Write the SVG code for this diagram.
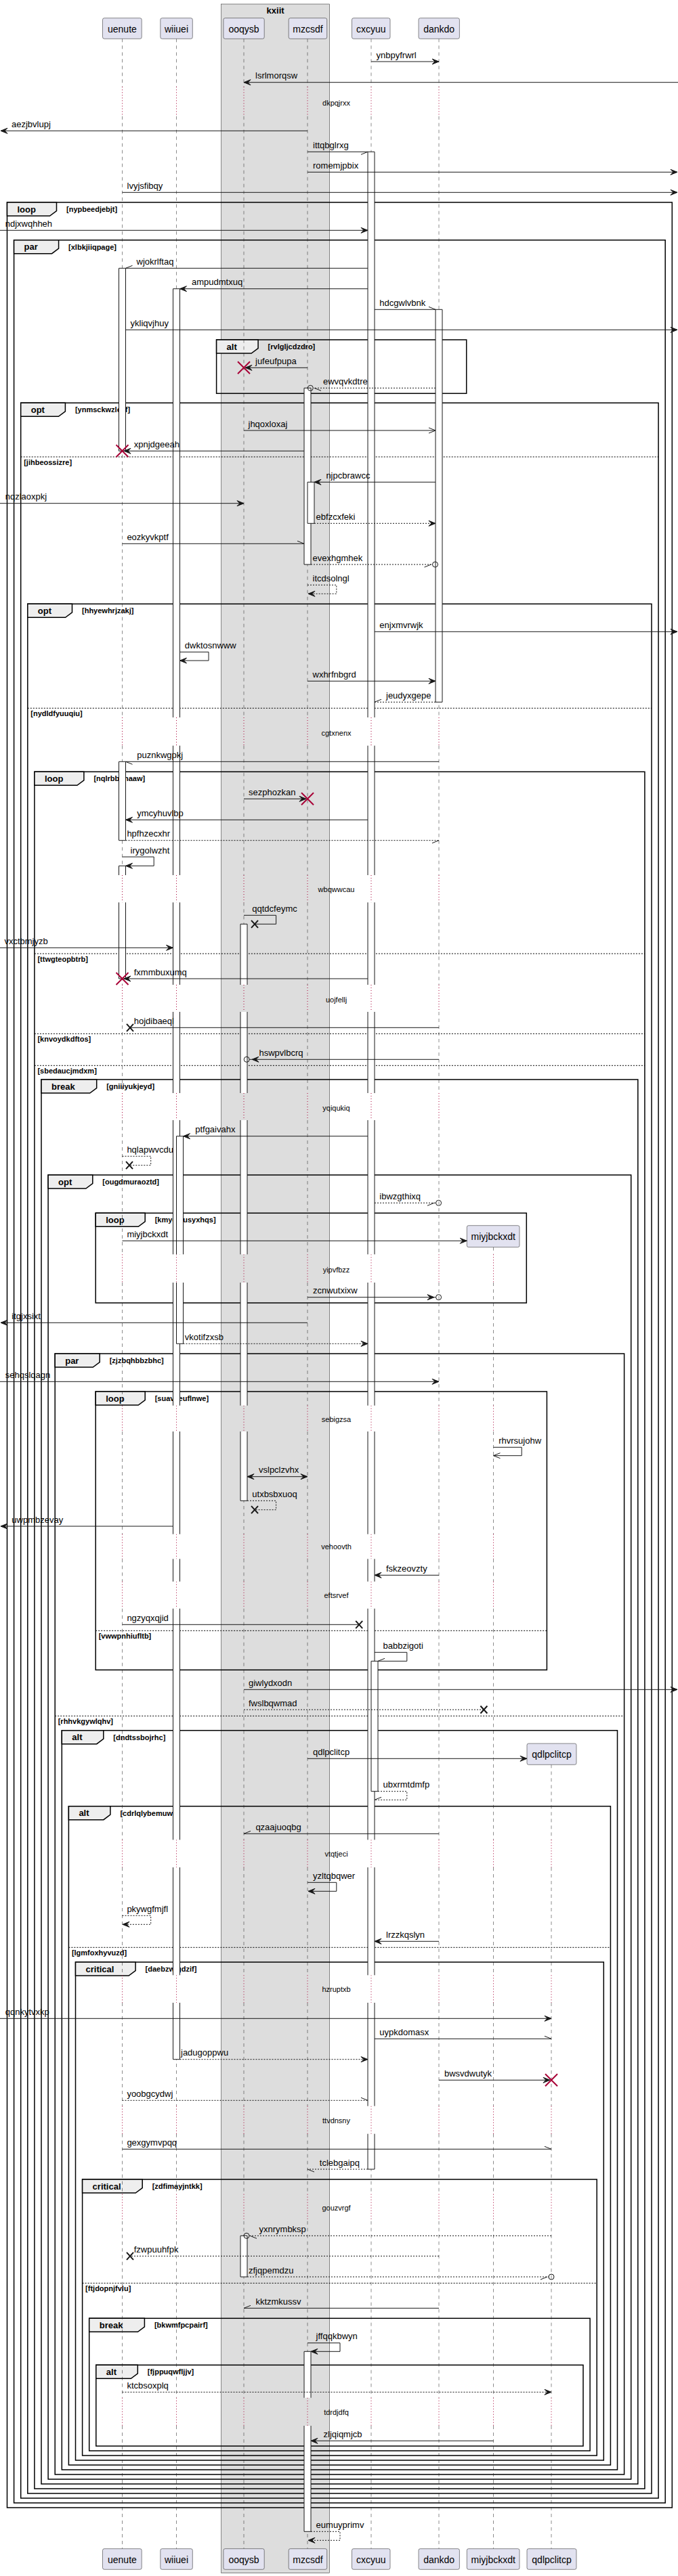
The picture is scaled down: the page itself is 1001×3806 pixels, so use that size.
<svg xmlns="http://www.w3.org/2000/svg" width="1001" height="3806" viewBox="0 0 1001 3806">
<style>
.pbox{fill:#E2E2F0;stroke:#181818;stroke-width:0.5}
.pname{font-family:"Liberation Sans",Arial,sans-serif;font-size:14px;fill:#000;text-anchor:middle}
.life{fill:none;stroke:#181818;stroke-width:0.5;stroke-dasharray:5,5}
.dly{fill:none;stroke:#A80036;stroke-width:1;stroke-dasharray:1,3}
.act{fill:#fff;stroke:none}
.actb{fill:none;stroke:#181818;stroke-width:1}
.frm{fill:none;stroke:#000;stroke-width:1.5}
.tab{fill:#EEEEEE;stroke:#000;stroke-width:1.5}
.tabt{font-family:"Liberation Sans",Arial,sans-serif;font-size:13px;font-weight:bold;fill:#000}
.cond{font-family:"Liberation Sans",Arial,sans-serif;font-size:11px;font-weight:bold;fill:#000}
.els{fill:none;stroke:#000;stroke-width:1;stroke-dasharray:2,2}
.m{fill:none;stroke:#181818;stroke-width:1}
.d{stroke-dasharray:2,2}
.lbl{font-family:"Liberation Sans",Arial,sans-serif;font-size:13px;fill:#000}
.dlt{font-family:"Liberation Sans",Arial,sans-serif;font-size:11px;fill:#000;text-anchor:middle}
.hf{fill:#181818;stroke:#181818;stroke-width:1}
.ho{fill:none;stroke:#181818;stroke-width:1}
.xr{fill:none;stroke:#A80036;stroke-width:2}
.xb{fill:none;stroke:#181818;stroke-width:2}
.ci{fill:none;stroke:#181818;stroke-width:1}
.bt{font-family:"Liberation Sans",Arial,sans-serif;font-size:13px;font-weight:bold;fill:#000;text-anchor:middle}
</style>
<defs>
<path id="aR" d="M0,0 L-10,-4 L-6,0 L-10,4 Z"/>
<path id="aL" d="M0,0 L10,-4 L6,0 L10,4 Z"/>
<path id="oR" d="M-10,-4 L0,0 L-10,4"/>
<path id="oL" d="M10,-4 L0,0 L10,4"/>
<path id="huR" d="M0,0 L-10,-4"/>
<path id="hlR" d="M0,0 L-10,4"/>
<path id="huL" d="M0,0 L10,-4"/>
<path id="hlL" d="M0,0 L10,4"/>
<path id="xR" d="M-9,-9 L9,9 M-9,9 L9,-9"/>
<path id="xB" d="M-5,-5.5 L5,5.5 M-5,5.5 L5,-5.5"/>
<circle id="co" cx="0" cy="0" r="4"/>
<path id="lld" d="M0,57.3 V128.3 M0,171.7 V1060 M0,1101.7 V1293 M0,1333.3 V1455 M0,1495 V1615 M0,1655 V1853.3 M0,1895 V2076.7 M0,2115 V2266.7 M0,2303.3 V2336.7 M0,2376.7 V2718.3 M0,2759 V2918.3 M0,2959 V3111.7 M0,3152.7 V3241.7 M0,3281.7 V3542.7 M0,3584 V3765.7"/>
<path id="llp" d="M0,128.3 V171.7 M0,1060 V1101.7 M0,1293 V1333.3 M0,1455 V1495 M0,1615 V1655 M0,1853.3 V1895 M0,2076.7 V2115 M0,2266.7 V2303.3 M0,2336.7 V2376.7 M0,2718.3 V2759 M0,2918.3 V2959 M0,3111.7 V3152.7 M0,3241.7 V3281.7 M0,3542.7 V3584"/>
</defs>

<g id="box-kxiit">
<rect x="326.7" y="6" width="159.8" height="3795.7" fill="#DDDDDD" stroke="#181818" stroke-width="0.5"/>
<text class="bt" x="406.6" y="19.5">kxiit</text>
</g>

<g id="frames">
<rect class="frm" x="10.5" y="299" width="981.8" height="3406"/>
<polygon class="tab" points="10.5,299 83.5,299 83.5,311.5 73.5,319 10.5,319"/>
<text class="tabt" x="25.5" y="313.5">loop</text><text class="cond" x="98" y="313">[nypbeedjebjt]</text>

<rect class="frm" x="20.6" y="354.7" width="961.6" height="3343.3"/>
<polygon class="tab" points="20.6,354.7 86.6,354.7 86.6,367.2 76.6,374.7 20.6,374.7"/>
<text class="tabt" x="35.6" y="369.2">par</text><text class="cond" x="101.1" y="368.7">[xlbkjiiqpage]</text>

<rect class="frm" x="319.6" y="502" width="369.1" height="79.3"/>
<polygon class="tab" points="319.6,502 381.1,502 381.1,514.5 371.1,522 319.6,522"/>
<text class="tabt" x="334.6" y="516.5">alt</text><text class="cond" x="395.6" y="516">[rvlgljcdzdro]</text>

<rect class="frm" x="30.7" y="595.3" width="941.4" height="3095.7"/>
<polygon class="tab" points="30.7,595.3 96.4,595.3 96.4,607.8 86.4,615.3 30.7,615.3"/>
<text class="tabt" x="45.7" y="609.8">opt</text><text class="cond" x="110.9" y="609.3">[ynmsckwzleaf]</text>
<path class="els" d="M30.7,675 H972.1"/><text class="cond" x="35.2" y="687">[jihbeossizre]</text>

<rect class="frm" x="40.8" y="892.3" width="921.2" height="2791.7"/>
<polygon class="tab" points="40.8,892.3 106.5,892.3 106.5,904.8 96.5,912.3 40.8,912.3"/>
<text class="tabt" x="55.8" y="906.8">opt</text><text class="cond" x="121" y="906.3">[hhyewhrjzakj]</text>
<path class="els" d="M40.8,1046.3 H962"/><text class="cond" x="45.3" y="1058.3">[nydldfyuuqiu]</text>

<rect class="frm" x="50.9" y="1140.3" width="901" height="2536.7"/>
<polygon class="tab" points="50.9,1140.3 123.9,1140.3 123.9,1152.8 113.9,1160.3 50.9,1160.3"/>
<text class="tabt" x="65.9" y="1154.8">loop</text><text class="cond" x="138.4" y="1154.3">[nqlrbbtjnaaw]</text>
<path class="els" d="M50.9,1409 H951.9"/><text class="cond" x="55.4" y="1421">[ttwgteopbtrb]</text>
<path class="els" d="M50.9,1527.3 H951.9"/><text class="cond" x="55.4" y="1539.3">[knvoydkdftos]</text>
<path class="els" d="M50.9,1574.3 H951.9"/><text class="cond" x="55.4" y="1586.3">[sbedaucjmdxm]</text>

<rect class="frm" x="61" y="1595" width="880.8" height="2075"/>
<polygon class="tab" points="61,1595 142.7,1595 142.7,1607.5 132.7,1615 61,1615"/>
<text class="tabt" x="76" y="1609.5">break</text><text class="cond" x="157.2" y="1609">[gniiiyukjeyd]</text>

<rect class="frm" x="71.1" y="1736" width="860.6" height="1927"/>
<polygon class="tab" points="71.1,1736 136.8,1736 136.8,1748.5 126.8,1756 71.1,1756"/>
<text class="tabt" x="86.1" y="1750.5">opt</text><text class="cond" x="151.3" y="1750">[ougdmuraoztd]</text>

<rect class="frm" x="141.2" y="1792.3" width="636.1" height="132.7"/>
<polygon class="tab" points="141.2,1792.3 214.2,1792.3 214.2,1804.8 204.2,1812.3 141.2,1812.3"/>
<text class="tabt" x="156.2" y="1806.8">loop</text><text class="cond" x="228.7" y="1806.3">[kmyemusyxhqs]</text>

<rect class="frm" x="81.2" y="2000" width="840.4" height="1656"/>
<polygon class="tab" points="81.2,2000 147.2,2000 147.2,2012.5 137.2,2020 81.2,2020"/>
<text class="tabt" x="96.2" y="2014.5">par</text><text class="cond" x="161.7" y="2014">[zjzbqhbbzbhc]</text>
<path class="els" d="M81.2,2535.3 H921.6"/><text class="cond" x="85.7" y="2547.3">[rhhvkgywlqhv]</text>

<rect class="frm" x="141.2" y="2056" width="666.2" height="411.3"/>
<polygon class="tab" points="141.2,2056 214.2,2056 214.2,2068.5 204.2,2076 141.2,2076"/>
<text class="tabt" x="156.2" y="2070.5">loop</text><text class="cond" x="228.7" y="2070">[suavaeuflnwe]</text>
<path class="els" d="M141.2,2409.3 H807.4"/><text class="cond" x="145.7" y="2421.3">[vwwpnhiufltb]</text>

<rect class="frm" x="91.3" y="2556.7" width="820.2" height="1092.3"/>
<polygon class="tab" points="91.3,2556.7 152.8,2556.7 152.8,2569.2 142.8,2576.7 91.3,2576.7"/>
<text class="tabt" x="106.3" y="2571.2">alt</text><text class="cond" x="167.3" y="2570.7">[dndtssbojrhc]</text>

<rect class="frm" x="101.4" y="2668.7" width="800" height="973.3"/>
<polygon class="tab" points="101.4,2668.7 162.9,2668.7 162.9,2681.2 152.9,2688.7 101.4,2688.7"/>
<text class="tabt" x="116.4" y="2683.2">alt</text><text class="cond" x="177.4" y="2682.7">[cdrlqlybemuw]</text>
<path class="els" d="M101.4,2877.3 H901.4"/><text class="cond" x="105.9" y="2889.3">[lgmfoxhyvuzd]</text>

<rect class="frm" x="111.5" y="2899" width="779.8" height="736"/>
<polygon class="tab" points="111.5,2899 200.1,2899 200.1,2911.5 190.1,2919 111.5,2919"/>
<text class="tabt" x="126.5" y="2913.5">critical</text><text class="cond" x="214.6" y="2913">[daebzwlgdzif]</text>

<rect class="frm" x="121.6" y="3220" width="759.6" height="408"/>
<polygon class="tab" points="121.6,3220 210.2,3220 210.2,3232.5 200.2,3240 121.6,3240"/>
<text class="tabt" x="136.6" y="3234.5">critical</text><text class="cond" x="224.7" y="3234">[zdfimayjntkk]</text>
<path class="els" d="M121.6,3373.3 H881.2"/><text class="cond" x="126.1" y="3385.3">[ftjdopnjfvlu]</text>

<rect class="frm" x="131.7" y="3425.3" width="739.4" height="195.7"/>
<polygon class="tab" points="131.7,3425.3 213.4,3425.3 213.4,3437.8 203.4,3445.3 131.7,3445.3"/>
<text class="tabt" x="146.7" y="3439.8">break</text><text class="cond" x="227.9" y="3439.3">[bkwmfpcpairf]</text>

<rect class="frm" x="141.8" y="3494.3" width="719.2" height="119.7"/>
<polygon class="tab" points="141.8,3494.3 203.3,3494.3 203.3,3506.8 193.3,3514.3 141.8,3514.3"/>
<text class="tabt" x="156.8" y="3508.8">alt</text><text class="cond" x="217.8" y="3508.3">[fjppuqwfljjv]</text>
</g>

<g id="uenute">
<use href="#lld" x="180.5" class="life"/><use href="#llp" x="180.5" class="dly"/>
<rect class="pbox" x="151.5" y="26.7" width="57.7" height="30.6" rx="2.5"/><text class="pname" x="180.4" y="47.5">uenute</text>
<rect class="pbox" x="151.5" y="3765.7" width="57.7" height="30.6" rx="2.5"/><text class="pname" x="180.4" y="3786.5">uenute</text>
</g>
<g id="wiiuei">
<use href="#lld" x="260.5" class="life"/><use href="#llp" x="260.5" class="dly"/>
<rect class="pbox" x="236.8" y="26.7" width="47.5" height="30.6" rx="2.5"/><text class="pname" x="260.5" y="47.5">wiiuei</text>
<rect class="pbox" x="236.8" y="3765.7" width="47.5" height="30.6" rx="2.5"/><text class="pname" x="260.5" y="3786.5">wiiuei</text>
</g>
<g id="ooqysb">
<use href="#lld" x="360" class="life"/><use href="#llp" x="360" class="dly"/>
<rect class="pbox" x="329.9" y="26.7" width="60.3" height="30.6" rx="2.5"/><text class="pname" x="360" y="47.5">ooqysb</text>
<rect class="pbox" x="329.9" y="3765.7" width="60.3" height="30.6" rx="2.5"/><text class="pname" x="360" y="3786.5">ooqysb</text>
</g>
<g id="mzcsdf">
<use href="#lld" x="454" class="life"/><use href="#llp" x="454" class="dly"/>
<rect class="pbox" x="426.2" y="26.7" width="56.5" height="30.6" rx="2.5"/><text class="pname" x="454.4" y="47.5">mzcsdf</text>
<rect class="pbox" x="426.2" y="3765.7" width="56.5" height="30.6" rx="2.5"/><text class="pname" x="454.4" y="3786.5">mzcsdf</text>
</g>
<g id="cxcyuu">
<use href="#lld" x="548" class="life"/><use href="#llp" x="548" class="dly"/>
<rect class="pbox" x="519.5" y="26.7" width="56.5" height="30.6" rx="2.5"/><text class="pname" x="547.7" y="47.5">cxcyuu</text>
<rect class="pbox" x="519.5" y="3765.7" width="56.5" height="30.6" rx="2.5"/><text class="pname" x="547.7" y="3786.5">cxcyuu</text>
</g>
<g id="dankdo">
<use href="#lld" x="648" class="life"/><use href="#llp" x="648" class="dly"/>
<rect class="pbox" x="618" y="26.7" width="60.4" height="30.6" rx="2.5"/><text class="pname" x="648.2" y="47.5">dankdo</text>
<rect class="pbox" x="618" y="3765.7" width="60.4" height="30.6" rx="2.5"/><text class="pname" x="648.2" y="3786.5">dankdo</text>
</g>
<g id="miyjbckxdt">
<path class="life" d="M728.5,1842.7 V1853.3 M728.5,1895 V2076.7 M728.5,2115 V2266.7 M728.5,2303.3 V2336.7 M728.5,2376.7 V2718.3 M728.5,2759 V2918.3 M728.5,2959 V3111.7 M728.5,3152.7 V3241.7 M728.5,3281.7 V3542.7 M728.5,3584 V3765.7"/>
<path class="dly" d="M728.5,1853.3 V1895 M728.5,2076.7 V2115 M728.5,2266.7 V2303.3 M728.5,2336.7 V2376.7 M728.5,2718.3 V2759 M728.5,2918.3 V2959 M728.5,3111.7 V3152.7 M728.5,3241.7 V3281.7 M728.5,3542.7 V3584"/>
<rect class="pbox" x="689.3" y="1810.7" width="77.7" height="32" rx="2.5"/><text class="pname" x="728.2" y="1831.5">miyjbckxdt</text>
<rect class="pbox" x="689.3" y="3765.7" width="77.7" height="30.6" rx="2.5"/><text class="pname" x="728.2" y="3786.5">miyjbckxdt</text>
</g>
<g id="qdlpclitcp">
<path class="life" d="M814,2607.3 V2718.3 M814,2759 V2918.3 M814,2959 V3111.7 M814,3152.7 V3241.7 M814,3281.7 V3542.7 M814,3584 V3765.7"/>
<path class="dly" d="M814,2718.3 V2759 M814,2918.3 V2959 M814,3111.7 V3152.7 M814,3241.7 V3281.7 M814,3542.7 V3584"/>
<rect class="pbox" x="778" y="2576" width="73" height="31.3" rx="2.5"/><text class="pname" x="814.5" y="2596.5">qdlpclitcp</text>
<rect class="pbox" x="778" y="3765.7" width="73" height="30.6" rx="2.5"/><text class="pname" x="814.5" y="3786.5">qdlpclitcp</text>
</g>

<g id="activations">
<!-- uenute -->
<rect class="act" x="175.5" y="396.3" width="10" height="270"/>
<path class="actb" d="M175.5,396.3 H185.5 V666.3 H175.5 Z"/>
<rect class="act" x="175.5" y="1125.3" width="10" height="116.4"/>
<path class="actb" d="M175.5,1125.3 H185.5 V1241.7 H175.5 Z"/>
<rect class="act" x="175.5" y="1279.3" width="10" height="13.7"/>
<rect class="act" x="175.5" y="1333.3" width="10" height="112.7"/>
<path class="actb" d="M175.5,1279.3 H185.5 V1293 M175.5,1279.3 V1293 M175.5,1333.3 V1446 H185.5 V1333.3"/>
<!-- wiiuei -->
<rect class="act" x="255.5" y="426.7" width="10" height="633.3"/>
<rect class="act" x="255.5" y="1101.7" width="10" height="191.3"/>
<rect class="act" x="255.5" y="1333.3" width="10" height="121.7"/>
<rect class="act" x="255.5" y="1495" width="10" height="120"/>
<rect class="act" x="255.5" y="1655" width="10" height="198.3"/>
<rect class="act" x="255.5" y="1895" width="10" height="181.7"/>
<rect class="act" x="255.5" y="2115" width="10" height="151.7"/>
<rect class="act" x="255.5" y="2303.3" width="10" height="33.4"/>
<rect class="act" x="255.5" y="2376.7" width="10" height="341.6"/>
<rect class="act" x="255.5" y="2759" width="10" height="159.3"/>
<rect class="act" x="255.5" y="2959" width="10" height="83.7"/>
<path class="actb" d="M255.5,426.7 H265.5 M255.5,426.7 V1060 M265.5,426.7 V1060 M255.5,1101.7 V1293 M265.5,1101.7 V1293 M255.5,1333.3 V1455 M265.5,1333.3 V1455 M255.5,1495 V1615 M265.5,1495 V1615 M255.5,1655 V1853.3 M265.5,1655 V1853.3 M255.5,1895 V2076.7 M265.5,1895 V2076.7 M255.5,2115 V2266.7 M265.5,2115 V2266.7 M255.5,2303.3 V2336.7 M265.5,2303.3 V2336.7 M255.5,2376.7 V2718.3 M265.5,2376.7 V2718.3 M255.5,2759 V2918.3 M265.5,2759 V2918.3 M255.5,2959 V3042.7 H265.5 V2959"/>
<rect class="act" x="260.5" y="1678.7" width="10" height="174.6"/>
<rect class="act" x="260.5" y="1895" width="10" height="90.3"/>
<path class="actb" d="M260.5,1678.7 H270.5 M260.5,1678.7 V1853.3 M270.5,1678.7 V1853.3 M260.5,1895 V1985.3 H270.5 V1895"/>
<!-- ooqysb -->
<rect class="act" x="355" y="1365.3" width="10" height="89.7"/>
<rect class="act" x="355" y="1495" width="10" height="120"/>
<rect class="act" x="355" y="1655" width="10" height="198.3"/>
<rect class="act" x="355" y="1895" width="10" height="181.7"/>
<rect class="act" x="355" y="2115" width="10" height="102.3"/>
<path class="actb" d="M355,1365.3 H365 M355,1365.3 V1455 M365,1365.3 V1455 M355,1495 V1615 M365,1495 V1615 M355,1655 V1853.3 M365,1655 V1853.3 M355,1895 V2076.7 M365,1895 V2076.7 M355,2115 V2217.3 H365 V2115"/>
<rect class="act" x="355" y="3303.3" width="10" height="60.7"/>
<path class="actb" d="M355,3303.3 H365 V3364 H355 Z"/>
<!-- mzcsdf -->
<rect class="act" x="449" y="573.3" width="10" height="260.7"/>
<path class="actb" d="M449,573.3 H459 V834 H449 Z"/>
<rect class="act" x="454" y="712.3" width="10" height="61"/>
<path class="actb" d="M454,712.3 H464 V773.3 H454 Z"/>
<rect class="act" x="449" y="3474.3" width="10" height="68.4"/>
<rect class="act" x="449" y="3584" width="10" height="156.3"/>
<path class="actb" d="M449,3474.3 H459 M449,3474.3 V3542.7 M459,3474.3 V3542.7 M449,3584 V3740.3 H459 V3584"/>
<!-- cxcyuu -->
<rect class="act" x="543" y="224.3" width="10" height="835.7"/>
<rect class="act" x="543" y="1101.7" width="10" height="191.3"/>
<rect class="act" x="543" y="1333.3" width="10" height="121.7"/>
<rect class="act" x="543" y="1495" width="10" height="120"/>
<rect class="act" x="543" y="1655" width="10" height="198.3"/>
<rect class="act" x="543" y="1895" width="10" height="181.7"/>
<rect class="act" x="543" y="2115" width="10" height="151.7"/>
<rect class="act" x="543" y="2303.3" width="10" height="33.4"/>
<rect class="act" x="543" y="2376.7" width="10" height="341.6"/>
<rect class="act" x="543" y="2759" width="10" height="159.3"/>
<rect class="act" x="543" y="2959" width="10" height="152.7"/>
<rect class="act" x="543" y="3152.7" width="10" height="52.3"/>
<path class="actb" d="M543,224.3 H553 M543,224.3 V1060 M553,224.3 V1060 M543,1101.7 V1293 M553,1101.7 V1293 M543,1333.3 V1455 M553,1333.3 V1455 M543,1495 V1615 M553,1495 V1615 M543,1655 V1853.3 M553,1655 V1853.3 M543,1895 V2076.7 M553,1895 V2076.7 M543,2115 V2266.7 M553,2115 V2266.7 M543,2303.3 V2336.7 M553,2303.3 V2336.7 M543,2376.7 V2718.3 M553,2376.7 V2718.3 M543,2759 V2918.3 M553,2759 V2918.3 M543,2959 V3111.7 M553,2959 V3111.7 M543,3152.7 V3205 H553 V3152.7"/>
<rect class="act" x="548" y="2454.3" width="10" height="192.4"/>
<path class="actb" d="M548,2454.3 H558 V2646.7 H548 Z"/>
<!-- dankdo -->
<rect class="act" x="643" y="457.3" width="10" height="580"/>
<path class="actb" d="M643,457.3 H653 V1037.3 H643 Z"/>
</g>

<g id="connectors">
<line class="m" x1="548" y1="91" x2="648" y2="91"/><use href="#aR" x="648" y="91" class="hf"/>
<line class="m" x1="1001" y1="121.7" x2="360" y2="121.7"/><use href="#aL" x="360" y="121.7" class="hf"/>
<line class="m" x1="454" y1="193.3" x2="1" y2="193.3"/><use href="#aL" x="1" y="193.3" class="hf"/>
<line class="m" x1="454" y1="224.3" x2="543" y2="224.3"/><use href="#hlR" x="543" y="224.3" class="ho"/>
<line class="m" x1="454" y1="254.3" x2="1000" y2="254.3"/><use href="#aR" x="1000" y="254.3" class="hf"/>
<line class="m" x1="180.5" y1="284.3" x2="1000" y2="284.3"/><use href="#aR" x="1000" y="284.3" class="hf"/>
<line class="m" x1="0" y1="340.3" x2="543" y2="340.3"/><use href="#aR" x="543" y="340.3" class="hf"/>
<line class="m" x1="543" y1="396.3" x2="185.5" y2="396.3"/><use href="#huL" x="185.5" y="396.3" class="ho"/>
<line class="m" x1="543" y1="426.7" x2="265.5" y2="426.7"/><use href="#aL" x="265.5" y="426.7" class="hf"/>
<line class="m" x1="553" y1="457.3" x2="643" y2="457.3"/><use href="#huR" x="643" y="457.3" class="ho"/>
<line class="m" x1="185.5" y1="487.3" x2="1000" y2="487.3"/><use href="#aR" x="1000" y="487.3" class="hf"/>
<line class="m" x1="454" y1="543.3" x2="362" y2="543.3"/><use href="#aL" x="362" y="543.3" class="hf"/><use href="#xR" x="360" y="543.3" class="xr"/>
<line class="m d" x1="643" y1="573.3" x2="462.3" y2="573.3"/><use href="#co" x="458.3" y="573.3" class="ci"/><use href="#hlL" x="464" y="573.3" class="ho"/>
<line class="m" x1="360" y1="636" x2="643" y2="636"/><use href="#oR" x="643" y="636" class="ho"/>
<line class="m" x1="449" y1="666.3" x2="183" y2="666.3"/><use href="#aL" x="183" y="666.3" class="hf"/><use href="#xR" x="180.5" y="666.3" class="xr"/>
<line class="m" x1="643" y1="712.3" x2="464" y2="712.3"/><use href="#aL" x="464" y="712.3" class="hf"/>
<line class="m" x1="0" y1="743.7" x2="360" y2="743.7"/><use href="#aR" x="360" y="743.7" class="hf"/>
<line class="m d" x1="464" y1="773.3" x2="643" y2="773.3"/><use href="#aR" x="643" y="773.3" class="hf"/>
<line class="m" x1="180.5" y1="803.3" x2="449" y2="803.3"/><use href="#huR" x="449" y="803.3" class="ho"/>
<line class="m d" x1="459" y1="834" x2="638.5" y2="834"/><use href="#co" x="642.5" y="834" class="ci"/><use href="#hlR" x="636.5" y="834" class="ho"/>
<path class="m d" d="M454,864.3 H496.8 V877.3 H455"/><use href="#aL" x="455" y="877.3" class="hf"/>
<line class="m" x1="553" y1="933.3" x2="1000" y2="933.3"/><use href="#aR" x="1000" y="933.3" class="hf"/>
<path class="m" d="M265.5,963.3 H308 V976 H265.5"/><use href="#aL" x="265.5" y="976" class="hf"/>
<line class="m" x1="454" y1="1006.3" x2="643" y2="1006.3"/><use href="#aR" x="643" y="1006.3" class="hf"/>
<line class="m d" x1="643" y1="1037.3" x2="553" y2="1037.3"/><use href="#huL" x="553" y="1037.3" class="ho"/>
<line class="m" x1="648" y1="1125.3" x2="185.5" y2="1125.3"/><use href="#hlL" x="185.5" y="1125.3" class="ho"/>
<line class="m" x1="360" y1="1180.3" x2="452" y2="1180.3"/><use href="#aR" x="452" y="1180.3" class="hf"/><use href="#xR" x="454" y="1180.3" class="xr"/>
<line class="m" x1="543" y1="1211.3" x2="185.5" y2="1211.3"/><use href="#aL" x="185.5" y="1211.3" class="hf"/>
<line class="m d" x1="185.5" y1="1241.7" x2="648" y2="1241.7"/><use href="#hlR" x="648" y="1241.7" class="ho"/>
<path class="m" d="M180.5,1266 H227.2 V1279.3 H185.5"/><use href="#aL" x="185.5" y="1279.3" class="hf"/>
<path class="m" d="M360,1352.3 H407.6 V1365.3 H376"/><use href="#xB" x="376" y="1365.3" class="xb"/>
<line class="m" x1="0" y1="1400.3" x2="255.5" y2="1400.3"/><use href="#aR" x="255.5" y="1400.3" class="hf"/>
<line class="m" x1="543" y1="1446" x2="183" y2="1446"/><use href="#aL" x="183" y="1446" class="hf"/><use href="#xR" x="180.5" y="1446" class="xr"/>
<line class="m" x1="648" y1="1518.3" x2="192" y2="1518.3"/><use href="#xB" x="192" y="1518.3" class="xb"/>
<line class="m" x1="648" y1="1565.3" x2="368.2" y2="1565.3"/><use href="#aL" x="372" y="1565.3" class="hf"/><use href="#co" x="364.2" y="1565.3" class="ci"/>
<line class="m" x1="543" y1="1678.7" x2="270.5" y2="1678.7"/><use href="#aL" x="270.5" y="1678.7" class="hf"/>
<path class="m d" d="M180.5,1708.3 H222.7 V1721.7 H191"/><use href="#xB" x="191" y="1721.7" class="xb"/>
<line class="m d" x1="553" y1="1777.3" x2="643.6" y2="1777.3"/><use href="#co" x="647.6" y="1777.3" class="ci"/><use href="#hlR" x="641" y="1777.3" class="ho"/>
<line class="m" x1="180.5" y1="1833.3" x2="689.3" y2="1833.3"/><use href="#aR" x="689.3" y="1833.3" class="hf"/>
<line class="m" x1="454" y1="1916.7" x2="643.6" y2="1916.7"/><use href="#aR" x="641" y="1916.7" class="hf"/><use href="#co" x="647.6" y="1916.7" class="ci"/>
<line class="m" x1="454" y1="1954.3" x2="1" y2="1954.3"/><use href="#aL" x="1" y="1954.3" class="hf"/>
<line class="m d" x1="270.5" y1="1985.3" x2="543" y2="1985.3"/><use href="#aR" x="543" y="1985.3" class="hf"/>
<line class="m" x1="0" y1="2041.3" x2="648" y2="2041.3"/><use href="#aR" x="648" y="2041.3" class="hf"/>
<path class="m" d="M728.5,2138.3 H770.2 V2150.7 H728.5"/><use href="#oL" x="728.5" y="2150.7" class="ho"/>
<line class="m" x1="365" y1="2181.7" x2="454" y2="2181.7"/><use href="#aL" x="365" y="2181.7" class="hf"/><use href="#aR" x="454" y="2181.7" class="hf"/>
<path class="m d" d="M365,2217.3 H407.6 V2230.7 H376"/><use href="#xB" x="376" y="2230.7" class="xb"/>
<line class="m" x1="255.5" y1="2255" x2="1" y2="2255"/><use href="#aL" x="1" y="2255" class="hf"/>
<line class="m" x1="648" y1="2327.3" x2="553" y2="2327.3"/><use href="#aL" x="553" y="2327.3" class="hf"/>
<line class="m" x1="180.5" y1="2400.3" x2="530.2" y2="2400.3"/><use href="#xB" x="530.2" y="2400.3" class="xb"/>
<path class="m" d="M553,2441.3 H600.8 V2454.3 H558"/><use href="#huL" x="558" y="2454.3" class="ho"/>
<line class="m" x1="360" y1="2496.3" x2="1000" y2="2496.3"/><use href="#aR" x="1000" y="2496.3" class="hf"/>
<line class="m d" x1="360" y1="2526" x2="714.4" y2="2526"/><use href="#xB" x="714.4" y="2526" class="xb"/>
<line class="m" x1="454" y1="2598.3" x2="778" y2="2598.3"/><use href="#aR" x="778" y="2598.3" class="hf"/>
<path class="m d" d="M558,2646.7 H600.8 V2659.3 H553"/><use href="#huL" x="553" y="2659.3" class="ho"/>
<line class="m" x1="648" y1="2709.3" x2="360" y2="2709.3"/><use href="#huL" x="360" y="2709.3" class="ho"/>
<path class="m" d="M454,2781.3 H496.8 V2794.3 H455"/><use href="#aL" x="455" y="2794.3" class="hf"/>
<path class="m d" d="M180.5,2830.3 H222.7 V2843.3 H181"/><use href="#aL" x="181" y="2843.3" class="hf"/>
<line class="m" x1="648" y1="2868.3" x2="553" y2="2868.3"/><use href="#aL" x="553" y="2868.3" class="hf"/>
<line class="m" x1="0" y1="2982.3" x2="814" y2="2982.3"/><use href="#aR" x="814" y="2982.3" class="hf"/>
<line class="m" x1="553" y1="3012.3" x2="814" y2="3012.3"/><use href="#huR" x="814" y="3012.3" class="ho"/>
<line class="m d" x1="265.5" y1="3042.7" x2="543" y2="3042.7"/><use href="#aR" x="543" y="3042.7" class="hf"/>
<line class="m" x1="648" y1="3073.3" x2="812" y2="3073.3"/><use href="#aR" x="812" y="3073.3" class="hf"/><use href="#xR" x="814" y="3073.3" class="xr"/>
<line class="m d" x1="180.5" y1="3103.3" x2="543" y2="3103.3"/><use href="#huR" x="543" y="3103.3" class="ho"/>
<line class="m" x1="180.5" y1="3175.3" x2="814" y2="3175.3"/><use href="#huR" x="814" y="3175.3" class="ho"/>
<line class="m d" x1="543" y1="3205" x2="454" y2="3205"/><use href="#hlL" x="454" y="3205" class="ho"/>
<line class="m d" x1="814" y1="3303.3" x2="368" y2="3303.3"/><use href="#co" x="364" y="3303.3" class="ci"/><use href="#hlL" x="369" y="3303.3" class="ho"/>
<line class="m d" x1="648" y1="3333.3" x2="192" y2="3333.3"/><use href="#xB" x="192" y="3333.3" class="xb"/>
<line class="m d" x1="365" y1="3364" x2="810" y2="3364"/><use href="#co" x="814" y="3364" class="ci"/><use href="#hlR" x="808" y="3364" class="ho"/>
<line class="m" x1="648" y1="3410.3" x2="360" y2="3410.3"/><use href="#huL" x="360" y="3410.3" class="ho"/>
<path class="m" d="M454,3461.7 H502 V3474.3 H459"/><use href="#aL" x="459" y="3474.3" class="hf"/>
<line class="m d" x1="180.5" y1="3534.3" x2="814" y2="3534.3"/><use href="#aR" x="814" y="3534.3" class="hf"/>
<line class="m" x1="728.5" y1="3606.3" x2="459" y2="3606.3"/><use href="#aL" x="459" y="3606.3" class="hf"/>
<path class="m d" d="M459,3740.3 H502 V3753.3 H455"/><use href="#aL" x="455" y="3753.3" class="hf"/>
</g>

<g id="labels">
<text class="lbl" x="555.5" y="85.5">ynbpyfrwrl</text>
<text class="lbl" x="377" y="116.2">lsrlmorqsw</text>
<text class="lbl" x="17" y="187.8">aezjbvlupj</text>
<text class="lbl" x="462" y="218.8">ittqbglrxg</text>
<text class="lbl" x="462" y="248.8">romemjpbix</text>
<text class="lbl" x="187.5" y="278.8">lvyjsfibqy</text>
<text class="lbl" x="7.7" y="334.8">ndjxwqhheh</text>
<text class="lbl" x="201.5" y="390.8">wjokrlftaq</text>
<text class="lbl" x="283" y="421.2">ampudmtxuq</text>
<text class="lbl" x="560.3" y="451.8">hdcgwlvbnk</text>
<text class="lbl" x="192.6" y="481.8">ykliqvjhuy</text>
<text class="lbl" x="377" y="537.8">jufeufpupa</text>
<text class="lbl" x="477" y="567.8">ewvqvkdtre</text>
<text class="lbl" x="366.5" y="630.5">jhqoxloxaj</text>
<text class="lbl" x="197.7" y="660.8">xpnjdgeeah</text>
<text class="lbl" x="481.4" y="706.8">njpcbrawcc</text>
<text class="lbl" x="7.7" y="738.2">nqzlaoxpkj</text>
<text class="lbl" x="466.6" y="767.8">ebfzcxfeki</text>
<text class="lbl" x="187.4" y="797.8">eozkyvkptf</text>
<text class="lbl" x="461.5" y="828.5">evexhgmhek</text>
<text class="lbl" x="461.5" y="858.8">itcdsolngl</text>
<text class="lbl" x="560.3" y="927.8">enjxmvrwjk</text>
<text class="lbl" x="272.8" y="957.8">dwktosnwww</text>
<text class="lbl" x="461.5" y="1000.8">wxhrfnbgrd</text>
<text class="lbl" x="570" y="1031.8">jeudyxgepe</text>
<text class="lbl" x="202.2" y="1119.8">puznkwgpkj</text>
<text class="lbl" x="367" y="1174.8">sezphozkan</text>
<text class="lbl" x="202.2" y="1205.8">ymcyhuvlbp</text>
<text class="lbl" x="187.4" y="1236.2">hpfhzecxhr</text>
<text class="lbl" x="192.6" y="1260.5">irygolwzht</text>
<text class="lbl" x="372.3" y="1346.8">qqtdcfeymc</text>
<text class="lbl" x="6.4" y="1394.8">vxctbmjyzb</text>
<text class="lbl" x="197.7" y="1440.5">fxmmbuxumq</text>
<text class="lbl" x="197.7" y="1512.8">hojdibaeql</text>
<text class="lbl" x="382.5" y="1559.8">hswpvlbcrq</text>
<text class="lbl" x="288.2" y="1673.2">ptfgaivahx</text>
<text class="lbl" x="187.4" y="1702.8">hqlapwvcdu</text>
<text class="lbl" x="560.3" y="1771.8">ibwzgthixq</text>
<text class="lbl" x="187.4" y="1827.8">miyjbckxdt</text>
<text class="lbl" x="462" y="1911.2">zcnwutxixw</text>
<text class="lbl" x="17.3" y="1948.8">itgjxsixt</text>
<text class="lbl" x="272.8" y="1979.8">vkotifzxsb</text>
<text class="lbl" x="7.7" y="2035.8">sehqslqagn</text>
<text class="lbl" x="736.2" y="2132.8">rhvrsujohw</text>
<text class="lbl" x="382" y="2176.2">vslpclzvhx</text>
<text class="lbl" x="372.3" y="2211.8">utxbsbxuoq</text>
<text class="lbl" x="17.3" y="2249.5">uwpmbzevay</text>
<text class="lbl" x="570" y="2321.8">fskzeovzty</text>
<text class="lbl" x="187.4" y="2394.8">ngzyqxqjid</text>
<text class="lbl" x="565.5" y="2435.8">babbzigoti</text>
<text class="lbl" x="367" y="2490.8">giwlydxodn</text>
<text class="lbl" x="367" y="2520.5">fwslbqwmad</text>
<text class="lbl" x="462" y="2592.8">qdlpclitcp</text>
<text class="lbl" x="565.5" y="2641.2">ubxrmtdmfp</text>
<text class="lbl" x="377.4" y="2703.8">qzaajuoqbg</text>
<text class="lbl" x="462" y="2775.8">yzltqbqwer</text>
<text class="lbl" x="187.4" y="2824.8">pkywgfmjfl</text>
<text class="lbl" x="570" y="2862.8">lrzzkqslyn</text>
<text class="lbl" x="7.7" y="2976.8">qqnkytvxkp</text>
<text class="lbl" x="560.3" y="3006.8">uypkdomasx</text>
<text class="lbl" x="267" y="3037.2">jadugoppwu</text>
<text class="lbl" x="656" y="3067.8">bwsvdwutyk</text>
<text class="lbl" x="187.4" y="3097.8">yoobgcydwj</text>
<text class="lbl" x="187.4" y="3169.8">gexgymvpqq</text>
<text class="lbl" x="471.8" y="3199.5">tclebgaipq</text>
<text class="lbl" x="382.5" y="3297.8">yxnrymbksp</text>
<text class="lbl" x="197.7" y="3327.8">fzwpuuhfpk</text>
<text class="lbl" x="367" y="3358.5">zfjqpemdzu</text>
<text class="lbl" x="377.4" y="3404.8">kktzmkussv</text>
<text class="lbl" x="466.6" y="3456.2">jffqqkbwyn</text>
<text class="lbl" x="187.4" y="3528.8">ktcbsoxplq</text>
<text class="lbl" x="477.5" y="3600.8">zljqiqmjcb</text>
<text class="lbl" x="466.6" y="3734.8">eumuyprimv</text>
</g>

<g id="delays">
<text class="dlt" x="496.5" y="156">dkpqjrxx</text>
<text class="dlt" x="496.5" y="1086.7">cgtxnenx</text>
<text class="dlt" x="496.5" y="1318.3">wbqwwcau</text>
<text class="dlt" x="496.5" y="1480.7">uojfellj</text>
<text class="dlt" x="496.5" y="1640.7">yqiqukiq</text>
<text class="dlt" x="496.5" y="1880">yipvfbzz</text>
<text class="dlt" x="496.5" y="2100.7">sebigzsa</text>
<text class="dlt" x="496.5" y="2289.3">vehoovth</text>
<text class="dlt" x="496.5" y="2361.3">eftsrvef</text>
<text class="dlt" x="496.5" y="2743.3">vtqtjeci</text>
<text class="dlt" x="496.5" y="2943.3">hzruptxb</text>
<text class="dlt" x="496.5" y="3137.3">ttvdnsny</text>
<text class="dlt" x="496.5" y="3265.7">gouzvrgf</text>
<text class="dlt" x="496.5" y="3568.3">tdrdjdfq</text>
</g>
</svg>
